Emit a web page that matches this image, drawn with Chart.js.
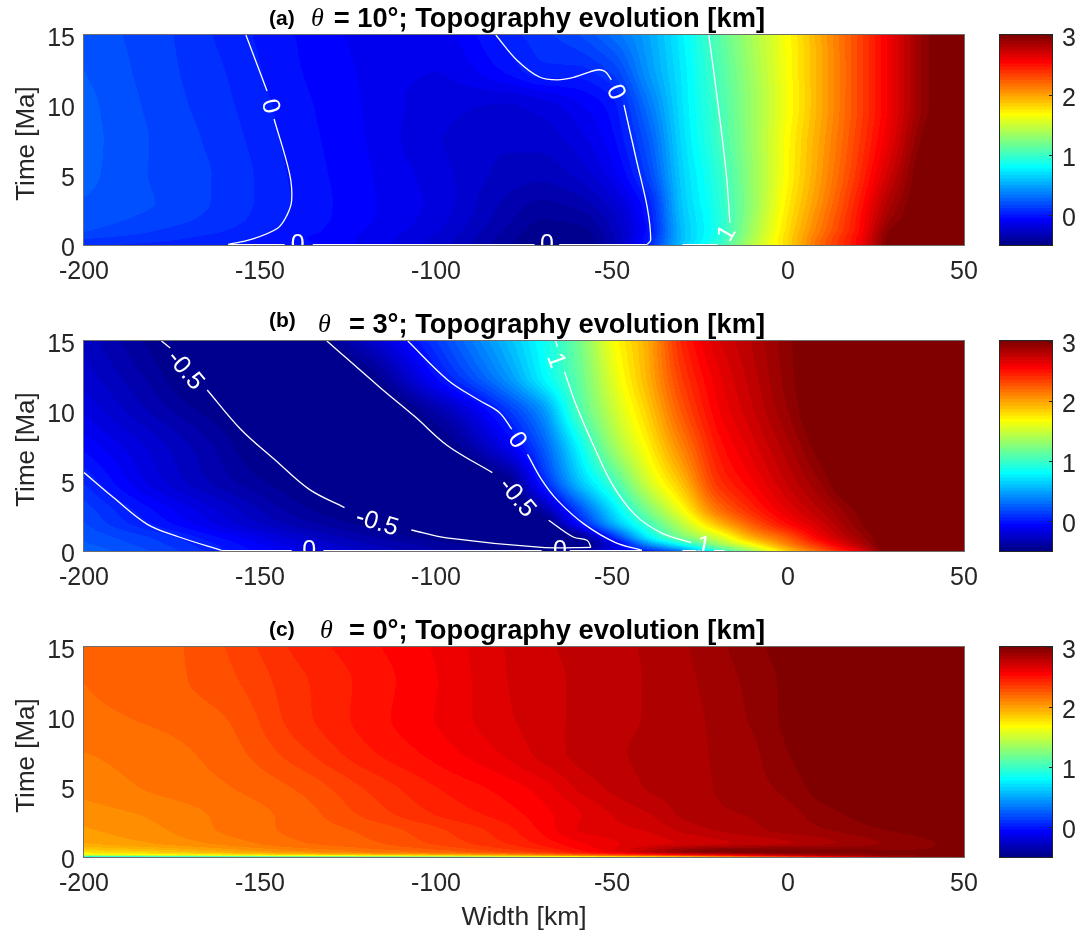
<!DOCTYPE html>
<html>
<head>
<meta charset="utf-8">
<title>Topography evolution</title>
<script src="https://cdn.jsdelivr.net/npm/chart.js@4/dist/chart.umd.js"></script>
<style>
  html, body { margin: 0; padding: 0; background: #fff; }
  #fig { position: relative; width: 1075px; height: 934px; overflow: hidden; }
  #fig canvas { position: absolute; }
</style>
</head>
<body>
<div id="fig"></div>
<script>
// Grid columns, km
const widthKm = [-200, -180, -160, -140, -120, -100, -80, -70, -60, -50, -40, -30, -20, -10, 0, 10, 20, 30, 40, 50];

// Grid rows, Ma
const timeA = [15, 12.5, 10, 7.5, 5, 3, 2, 1, 0.5, 0];
const timeB = [15, 12.5, 10, 7.5, 5, 3, 2, 1, 0.5, 0];
const timeC = [15, 12.5, 10, 7.5, 5, 3, 2, 1, 0.4, 0.15, 0];

// Topography in km
const topoA = [
  [.19, .125, .03, -.0625, -.13, -.14, .02, .08, .15, .28, .47, .75, 1.07, 1.37, 1.66, 1.98, 2.3, 2.62, 2.945, 3.1],
  [.211, .13, .047, -.055, -.125, -.17, -.05, .03, .03, .12, .42, .72, 1.03, 1.34, 1.65, 1.97, 2.3, 2.62, 2.945, 3.1],
  [.23, .14, .06, -.04, -.122, -.2, -.23, -.2, -.13, -.03, .3, .7, 1.0, 1.32, 1.64, 1.97, 2.3, 2.62, 2.945, 3.1],
  [.235, .15, .075, -.03, -.117, -.22, -.27, -.26, -.2, -.08, .2, .67, .98, 1.32, 1.67, 2.0, 2.33, 2.66, 3.0, 3.1],
  [.23, .15, .088, -.02, -.108, -.2, -.3, -.32, -.27, -.15, .12, .63, .93, 1.3, 1.68, 2.03, 2.38, 2.75, 3.05, 3.1],
  [.205, .157, .085, -.012, -.105, -.19, -.35, -.4, -.37, -.25, 0, .6, .9, 1.3, 1.72, 2.08, 2.45, 2.85, 3.05, 3.1],
  [.19, .14, .075, -.018, -.105, -.2, -.37, -.44, -.42, -.3, -.03, .58, .88, 1.32, 1.75, 2.12, 2.48, 2.9, 3.05, 3.1],
  [.16, .102, .047, -.03, -.12, -.22, -.4, -.47, -.47, -.33, -.05, .56, .88, 1.35, 1.78, 2.16, 2.5, 2.97, 3.05, 3.1],
  [.11, .07, .02, -.05, -.13, -.24, -.42, -.49, -.49, -.35, -.02, .56, .9, 1.38, 1.8, 2.2, 2.53, 3.0, 3.05, 3.1],
  [.06, .03, 0, -.04, -.13, -.25, -.43, -.5, -.5, -.35, 0, .6, .95, 1.42, 1.8, 2.22, 2.53, 3.0, 3.05, 3.1]
];

const topoB = [
  [-.3, -.47, -.58, -.55, -.3, .1, .55, .81, 1.15, 1.62, 1.95, 2.42, 2.66, 2.79, 2.93, 3.05, 3.1, 3.1, 3.1, 3.1],
  [-.25, -.42, -.6, -.62, -.5, -.05, .42, .75, 1.1, 1.55, 1.92, 2.35, 2.6, 2.76, 2.92, 3.05, 3.1, 3.1, 3.1, 3.1],
  [-.18, -.35, -.5, -.62, -.6, -.38, .08, .4, 1.0, 1.45, 1.82, 2.25, 2.55, 2.72, 2.89, 3.05, 3.1, 3.1, 3.1, 3.1],
  [-.08, -.25, -.42, -.6, -.62, -.53, -.15, .2, .75, 1.3, 1.69, 2.1, 2.47, 2.65, 2.82, 3.0, 3.1, 3.1, 3.1, 3.1],
  [.04, -.2, -.37, -.5, -.62, -.62, -.48, 0, .55, 1.0, 1.5, 1.9, 2.37, 2.56, 2.74, 2.91, 3.1, 3.1, 3.1, 3.1],
  [.13, -.07, -.25, -.42, -.53, -.62, -.6, -.38, .13, .68, 1.2, 1.65, 2.15, 2.42, 2.63, 2.8, 2.97, 3.1, 3.1, 3.1],
  [.16, -.02, -.2, -.36, -.47, -.58, -.63, -.55, -.08, .5, 1.0, 1.45, 1.9, 2.25, 2.52, 2.72, 2.93, 3.1, 3.1, 3.1],
  [.2, .09, -.08, -.25, -.38, -.48, -.6, -.62, -.48, .03, .72, 1.2, 1.52, 1.95, 2.25, 2.6, 2.85, 3.05, 3.1, 3.1],
  [.22, .12, -.03, -.2, -.33, -.42, -.5, -.54, -.53, -.2, .4, .85, 1.3, 1.69, 2.1, 2.45, 2.78, 3.05, 3.1, 3.1],
  [.25, .15, 0, -.15, -.28, -.38, -.45, -.45, -.4, -.2, .02, .35, .9, 1.35, 1.85, 2.25, 2.6, 3.05, 3.1, 3.1]
];

const topoC = [
  [2.19, 2.21, 2.289, 2.41, 2.49, 2.57, 2.675, 2.715, 2.74, 2.76, 2.79, 2.827, 2.875, 2.93, 2.97, 3, 3, 3, 3, 3],
  [2.18, 2.21, 2.27, 2.38, 2.47, 2.56, 2.67, 2.705, 2.735, 2.76, 2.785, 2.82, 2.86, 2.91, 2.96, 3, 3, 3, 3, 3],
  [2.165, 2.19, 2.234, 2.37, 2.475, 2.565, 2.663, 2.7, 2.737, 2.76, 2.786, 2.815, 2.85, 2.9, 2.96, 3, 3, 3, 3, 3],
  [2.125, 2.155, 2.207, 2.32, 2.44, 2.53, 2.63, 2.69, 2.74, 2.77, 2.795, 2.818, 2.843, 2.88, 2.945, 2.99, 3, 3, 3, 3],
  [2.09, 2.135, 2.175, 2.24, 2.35, 2.453, 2.535, 2.59, 2.68, 2.74, 2.785, 2.81, 2.84, 2.87, 2.91, 2.975, 3, 3, 3, 3],
  [2.04, 2.08, 2.14, 2.2, 2.3, 2.4, 2.48, 2.54, 2.61, 2.672, 2.72, 2.79, 2.825, 2.84, 2.87, 2.92, 2.96, 2.99, 3, 3],
  [2.01, 2.06, 2.135, 2.195, 2.25, 2.335, 2.437, 2.52, 2.617, 2.655, 2.68, 2.745, 2.79, 2.825, 2.86, 2.888, 2.925, 2.955, 2.98, 3],
  [1.96, 2.02, 2.09, 2.17, 2.22, 2.3, 2.4, 2.47, 2.55, 2.607, 2.645, 2.68, 2.715, 2.745, 2.777, 2.82, 2.865, 2.905, 2.94, 2.97],
  [1.78, 1.85, 1.95, 2.05, 2.13, 2.2, 2.3, 2.37, 2.48, 2.6, 2.75, 2.9, 2.98, 3, 3, 2.98, 2.96, 2.95, 2.95, 2.96],
  [1.55, 1.62, 1.7, 1.78, 1.85, 1.92, 2.02, 2.1, 2.2, 2.3, 2.4, 2.5, 2.6, 2.7, 2.8, 2.88, 2.92, 2.95, 2.96, 2.97],
  [.7, .75, .85, .95, 1.05, 1.15, 1.3, 1.4, 1.5, 1.6, 1.7, 1.8, 1.95, 2.1, 2.25, 2.4, 2.6, 2.8, 2.9, 2.95]
];

// Contour pieces as [km, Ma] pairs, broken where the labels sit
const contoursA = [
  [[-154, 15], [-148, 11]],
  [[-146, 9], [-141.6, 5.1], [-141, 3.2], [-142.4, 2.1], [-145, 1.2], [-152.5, 0.4], [-159, 0.05]],
  [[-159, 0.03], [-143, 0.03]],
  [[-135, 0.03], [-72, 0.03]],
  [[-65, 0.03], [-40, 0.03]],
  [[-40, 0.05], [-39, 0.35], [-40, 2.7], [-43, 6], [-46.6, 10]],
  [[-50.2, 11.8], [-52, 12.4], [-54.3, 12.5], [-60.6, 12], [-65.5, 11.8], [-70.6, 12], [-77, 13.2], [-83, 15]],
  [[-22.5, 15], [-20, 10.3], [-17.5, 5], [-16.5, 1.6]],
  [[-30, 0.03], [-20, 0.03]]
];

const contoursB = [
  [[-200, 5.6], [-191.8, 3.85], [-182, 1.9], [-173, 1], [-161, 0.05]],
  [[-161, 0.03], [-141, 0.03]],
  [[-132, 0.03], [-70, 0.03]],
  [[-62, 0.03], [-41.5, 0.03]],
  [[-41.5, 0.05], [-49, 0.6], [-57.8, 1.9], [-65.4, 3.6], [-70, 5.1], [-74, 6.9]],
  [[-78.5, 8.7], [-82, 9.9], [-88, 10.8], [-96.6, 12.2], [-108, 15]],
  [[-165, 11.5], [-155.5, 8.7], [-145.7, 6.5], [-136, 4.4], [-126, 3.1]],
  [[-178, 15], [-175.5, 14.5]],
  [[-107, 1.5], [-97, 0.93], [-70, 0.26], [-56, 0.26]],
  [[-56, 0.26], [-57, 0.75], [-61, 1], [-68, 2.2]],
  [[-84, 5.6], [-96.6, 7.5], [-106, 9.6], [-116, 11.7], [-131, 15]],
  [[-66, 15], [-65.5, 14.6]],
  [[-63.5, 12.8], [-60, 10.3], [-55, 7.4], [-50, 4.8], [-43.5, 2.6], [-36, 1.3], [-27.5, 0.6]],
  [[-30, 0.03], [-26, 0.03]],
  [[-21, 0.03], [-18, 0.03]]
];

// Contour labels: text, km, Ma, angle in degrees
const labelsA = [
  ['0', -147.2, 9.9, 75], ['0', -49, 10.9, 65], ['0', -139.3, 0, 0], ['0', -68.5, 0, 0], ['1', -17.3, 0.8, -60]
];
const labelsB = [
  ['-0.5', -171.3, 12.9, 50], ['-0.5', -116.8, 2, 17], ['0', -77, 7.9, 55], ['-0.5', -77, 3.8, 50],
  ['1', -66, 13.6, 70], ['0', -136, 0, 0], ['0', -64.8, 0, 0], ['1', -24, 0.35, 10]
];

// Panel text
const panelTags = ['(a)', '(b)', '(c)'];
const panelAngles = ['10', '3', '0'];

const xTicks = [-200, -150, -100, -50, 0, 50];
const yTicks = [0, 5, 10, 15];
const barTicks = [0, 1, 2, 3];

const TOPO_MIN = -0.5;
const TOPO_MAX = 3;
const N_LEVELS = 64;
const INK = '#262626';
const SANS = '"Liberation Sans", Arial, sans-serif';

// MATLAB jet, 64 entries
function jet(i) {
  const t = (i + 1) / N_LEVELS;
  const clamp = v => Math.max(0, Math.min(1, v));
  const r = clamp(Math.min(4 * t - 1.5, -4 * t + 4.5));
  const g = clamp(Math.min(4 * t - 0.5, -4 * t + 3.5));
  const b = clamp(Math.min(4 * t + 0.5, -4 * t + 2.5));
  return [Math.round(r * 255), Math.round(g * 255), Math.round(b * 255)];
}
const jetColors = Array.from({ length: N_LEVELS }, (_, i) => jet(i));

function levelOf(v) {
  const i = Math.floor((v - TOPO_MIN) / (TOPO_MAX - TOPO_MIN) * N_LEVELS);
  return Math.max(0, Math.min(N_LEVELS - 1, i));
}

// Shape-preserving cubic through the read values, the way a smooth surface runs between them
function pchip(xs, ys, x) {
  const n = xs.length;
  let i = 0;
  const up = xs[1] > xs[0];
  while (i < n - 2 && (up ? x > xs[i + 1] : x < xs[i + 1])) i++;
  const h = xs[i + 1] - xs[i];
  const s = (ys[i + 1] - ys[i]) / h;
  const slope = k => {
    if (k <= 0) return (ys[1] - ys[0]) / (xs[1] - xs[0]);
    if (k >= n - 1) return (ys[n - 1] - ys[n - 2]) / (xs[n - 1] - xs[n - 2]);
    const a = (ys[k] - ys[k - 1]) / (xs[k] - xs[k - 1]);
    const b = (ys[k + 1] - ys[k]) / (xs[k + 1] - xs[k]);
    return a * b <= 0 ? 0 : 2 * a * b / (a + b);
  };
  const d0 = slope(i), d1 = slope(i + 1);
  const u = Math.max(0, Math.min(1, (x - xs[i]) / h));
  return ys[i] + u * (h * d0 + u * (3 * (h * s) - 2 * h * d0 - h * d1 + u * (h * d0 + h * d1 - 2 * (h * s))));
}

// Paints the filled contour from the grid through the chart's scales
const fieldPlugin = {
  id: 'field',
  beforeDatasetsDraw(chart, args, opts) {
    const { ctx, chartArea: area, scales } = chart;
    const left = Math.round(area.left), top = Math.round(area.top);
    const w = Math.round(area.right) - left, h = Math.round(area.bottom) - top;
    const img = ctx.createImageData(w, h);
    for (let py = 0; py < h; py++) {
      const ma = scales.y.getValueForPixel(top + py + 0.5);
      const row = widthKm.map((_, c) => pchip(opts.times, opts.grid.map(r => r[c]), ma));
      for (let px = 0; px < w; px++) {
        const v = pchip(widthKm, row, scales.x.getValueForPixel(left + px + 0.5));
        const col = jetColors[levelOf(v)];
        const k = (py * w + px) * 4;
        img.data[k] = col[0];
        img.data[k + 1] = col[1];
        img.data[k + 2] = col[2];
        img.data[k + 3] = 255;
      }
    }
    ctx.putImageData(img, left, top);
  }
};

// Number labels sit a little under the tick position in the original
function drawValueLabels(chart, values, x, align) {
  const { ctx, scales } = chart;
  ctx.save();
  ctx.fillStyle = INK;
  ctx.font = '25px ' + SANS;
  ctx.textAlign = align;
  ctx.textBaseline = 'alphabetic';
  values.forEach(v => ctx.fillText(String(v), x, scales.y.getPixelForValue(v) + 11));
  ctx.restore();
}

// Contour labels, frame, y labels and the mixed-font title
const overlayPlugin = {
  id: 'overlay',
  afterDraw(chart, args, opts) {
    const { ctx, chartArea: area, scales } = chart;
    ctx.save();
    ctx.beginPath();
    ctx.rect(area.left, area.top, area.right - area.left, area.bottom - area.top);
    ctx.clip();
    ctx.fillStyle = '#fff';
    ctx.font = '25px ' + SANS;
    ctx.textAlign = 'center';
    ctx.textBaseline = 'middle';
    opts.labels.forEach(([text, km, ma, deg]) => {
      ctx.save();
      ctx.translate(scales.x.getPixelForValue(km), scales.y.getPixelForValue(ma));
      ctx.rotate(deg * Math.PI / 180);
      ctx.fillText(text, 0, 0);
      ctx.restore();
    });
    ctx.restore();

    ctx.save();
    ctx.strokeStyle = '#6e6e6e';
    ctx.lineWidth = 1;
    ctx.strokeRect(area.left - 0.5, area.top - 0.5, area.right - area.left + 1, area.bottom - area.top + 1);
    ctx.restore();

    drawValueLabels(chart, yTicks, 75, 'right');

    ctx.save();
    ctx.fillStyle = INK;
    ctx.font = '26px ' + SANS;
    ctx.textAlign = 'center';
    ctx.textBaseline = 'middle';
    ctx.translate(27, (area.top + area.bottom) / 2 + 3.5);
    ctx.rotate(-Math.PI / 2);
    ctx.fillText('Time [Ma]', 0, 0);
    ctx.restore();

    // title, sits just above the frame
    ctx.save();
    const y = area.top - 16;
    ctx.fillStyle = '#000';
    ctx.textAlign = 'left';
    ctx.textBaseline = 'middle';
    ctx.font = 'bold 21px ' + SANS;
    ctx.fillText(opts.tag, 269, y - opts.tagLift);
    ctx.font = 'italic 26px "Liberation Serif", serif';
    ctx.fillText('θ', opts.thetaX, y);
    ctx.font = 'bold 27.3px ' + SANS;
    ctx.textAlign = 'right';
    ctx.fillText('= ' + opts.angle + '°; Topography evolution [km]', 765, y);
    ctx.restore();
  }
};

function contourDatasets(pieces) {
  return pieces.map(piece => ({
    data: piece.map(p => ({ x: p[0], y: p[1] })),
    borderColor: '#fff',
    borderWidth: 1.3,
    pointRadius: 0,
    tension: 0.35
  }));
}

function addCanvas(left, top, width, height) {
  const canvas = document.createElement('canvas');
  canvas.style.left = left + 'px';
  canvas.style.top = top + 'px';
  canvas.style.width = width + 'px';
  canvas.style.height = height + 'px';
  canvas.width = width;
  canvas.height = height;
  document.getElementById('fig').appendChild(canvas);
  return canvas;
}

function panel(top, height, grid, times, pieces, labels, i, thetaX, tagLift, showWidth) {
  const plotTop = 35;
  const plotH = 210;
  new Chart(addCanvas(0, top, 995, height), {
    type: 'line',
    data: { datasets: contourDatasets(pieces) },
    plugins: [fieldPlugin, overlayPlugin],
    options: {
      responsive: false,
      animation: false,
      events: [],
      layout: { padding: { top: plotTop, right: 31, left: 0, bottom: 0 } },
      plugins: {
        legend: { display: false },
        tooltip: { enabled: false },
        field: { grid, times },
        overlay: { labels, tag: panelTags[i], angle: panelAngles[i], thetaX, tagLift }
      },
      scales: {
        x: {
          type: 'linear',
          min: -200,
          max: 50,
          afterBuildTicks: s => { s.ticks = xTicks.map(value => ({ value })); },
          afterFit: s => { s.height = height - plotTop - plotH; },
          grid: { display: false },
          border: { display: false },
          ticks: {
            color: INK, font: { family: SANS, size: 25 }, padding: 4, maxRotation: 0, autoSkip: false
          },
          title: {
            display: showWidth, text: 'Width [km]', color: INK,
            font: { family: SANS, size: 26.5 }, padding: { top: 0, bottom: 0 }
          }
        },
        y: {
          type: 'linear',
          min: 0,
          max: 15,
          afterBuildTicks: s => { s.ticks = yTicks.map(value => ({ value })); },
          afterFit: s => { s.width = 84; },
          grid: { display: false },
          border: { display: false },
          ticks: { display: false }
        }
      }
    }
  });
}

// Colour bar: one floating bar per jet level, small ticks inside the right edge
const barFramePlugin = {
  id: 'barFrame',
  afterDraw(chart) {
    const { ctx, chartArea: area, scales } = chart;
    ctx.save();
    ctx.strokeStyle = INK;
    ctx.lineWidth = 1;
    ctx.strokeRect(area.left - 0.5, area.top - 0.5, area.right - area.left + 1, area.bottom - area.top + 1);
    barTicks.forEach(v => {
      const y = Math.round(scales.y.getPixelForValue(v)) + 0.5;
      ctx.beginPath();
      ctx.moveTo(area.right - 3, y);
      ctx.lineTo(area.right, y);
      ctx.stroke();
    });
    ctx.restore();
    drawValueLabels(chart, barTicks, 72, 'left');
  }
};

function colorBar(top) {
  const step = (TOPO_MAX - TOPO_MIN) / N_LEVELS;
  new Chart(addCanvas(990, top, 85, 280), {
    type: 'bar',
    data: {
      labels: [''],
      datasets: jetColors.map((c, i) => ({
        data: [[TOPO_MIN + i * step, TOPO_MIN + (i + 1) * step + (i < N_LEVELS - 1 ? step * 0.2 : 0)]],
        backgroundColor: `rgb(${c[0]},${c[1]},${c[2]})`,
        borderWidth: 0,
        barPercentage: 1,
        categoryPercentage: 1
      }))
    },
    plugins: [barFramePlugin],
    options: {
      responsive: false,
      animation: false,
      events: [],
      layout: { padding: { top: 35, left: 10, right: 0, bottom: 35 } },
      plugins: { legend: { display: false }, tooltip: { enabled: false } },
      scales: {
        x: { stacked: true, display: false },
        y: {
          position: 'right',
          min: TOPO_MIN,
          max: TOPO_MAX,
          afterBuildTicks: s => { s.ticks = barTicks.map(value => ({ value })); },
          afterFit: s => { s.width = 23; },
          grid: { display: false },
          border: { display: false },
          ticks: { display: false }
        }
      }
    }
  });
}

panel(0, 306, topoA, timeA, contoursA, labelsA, 0, 311, 0, false);
panel(306, 306, topoB, timeB, contoursB, labelsB, 1, 318, 4, false);
panel(612, 322, topoC, timeC, [], [], 2, 320, 1, true);
colorBar(0);
colorBar(306);
colorBar(612);
</script>
</body>
</html>
